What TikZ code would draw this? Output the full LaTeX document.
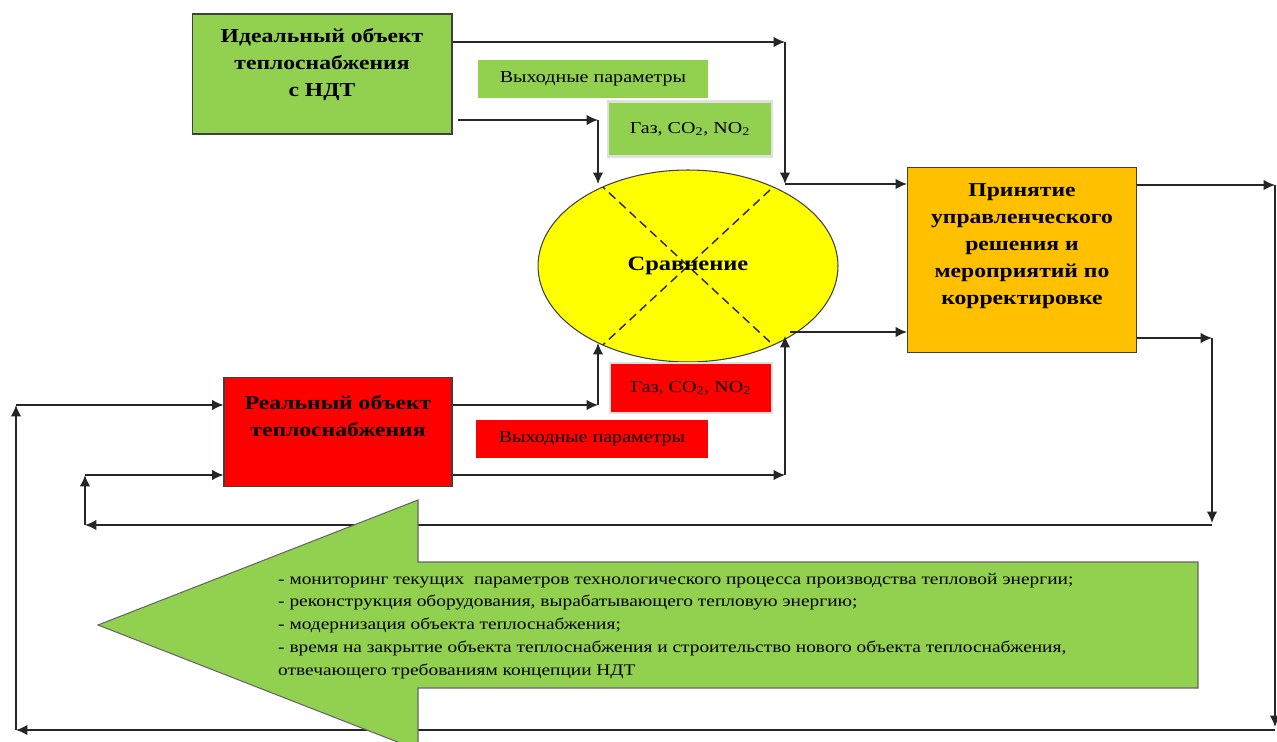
\documentclass[tikz,border=0pt]{standalone}
\usepackage{fontspec}
\setmainfont{Liberation Serif}[FakeStretch=1.2]
\usetikzlibrary{positioning, shapes.geometric, arrows.meta}
\definecolor{idealgreen}{RGB}{146,208,80}
\definecolor{realred}{RGB}{255,0,0}
\definecolor{decorange}{RGB}{255,192,0}
\definecolor{cmpyellow}{RGB}{255,255,0}

\begin{document}
\begin{tikzpicture}[>={Latex[length=6.5pt, width=6pt]}, x=0.02cm, y=-0.02cm]

        % --- Styles ---
        \tikzset{
            conn/.style={->, line width=0.85pt, black!85},
            mainbox/.style={draw=black!75, line width=0.6pt, inner sep=0pt},
            boxtitle/.style={align=center, font=\fontsize{11.2}{15.3}\selectfont\bfseries},
            tagbox/.style={inner sep=0pt, font=\fontsize{9.5}{11}\selectfont},
            gasbox/.style={draw=black!12, line width=1.6pt, inner sep=0pt, font=\fontsize{9.5}{11}\selectfont},
            cmpnode/.style={ellipse, draw=black!75, line width=0.6pt, fill=cmpyellow, inner sep=0pt,
                minimum width=6cm, minimum height=3.84cm, font=\fontsize{11.6}{14}\selectfont\bfseries,
                path picture={
                    \draw[dash pattern=on 5pt off 3pt, line width=0.8pt, black!85] (path picture bounding box.center) ++(-110,-102) -- ++(220,204);
                    \draw[dash pattern=on 5pt off 3pt, line width=0.8pt, black!85] (path picture bounding box.center) ++(-110,102) -- ++(220,-204);
                }},
            bigarrow/.style={draw=black!60, line width=0.6pt, fill=idealgreen},
            listtext/.style={align=left, font=\fontsize{9.2}{13}\selectfont}
        }

        \useasboundingbox (0,0) rectangle (1277,742);

        % --- Blocs principaux ---
        \node[mainbox, fill=idealgreen, minimum width=5.2cm, minimum height=2.4cm,
            label={[boxtitle, anchor=north, yshift=-5pt]90:{Идеальный объект\\теплоснабжения\\с НДТ}}] (ideal) at (322,74) {};
        \node[mainbox, fill=realred, minimum width=4.56cm, minimum height=2.18cm,
            label={[boxtitle, anchor=north, yshift=-7pt]90:{Реальный объект\\теплоснабжения}}] (real) at (338,432) {};
        \node[mainbox, fill=decorange, minimum width=4.58cm, minimum height=3.7cm,
            label={[boxtitle, anchor=north, yshift=-6pt]90:{Принятие\\управленческого\\решения и\\мероприятий по\\корректировке}}] (dec) at (1022,260) {};
        \node[cmpnode] (cmp) at (688,266) {Сравнение};

        % --- Parametres de sortie ---
        \node[tagbox, fill=idealgreen, minimum width=4.6cm, minimum height=0.76cm] (outideal) at (593,79) {Выходные параметры\hspace{12pt}};
        \node[gasbox, fill=idealgreen, minimum width=3.28cm, minimum height=1.1cm] (gasideal) at (690,129) {Газ, CO\textsubscript{2}, NO\textsubscript{2}};
        \node[gasbox, fill=realred, minimum width=3.24cm, minimum height=1cm] (gasreal) at (691,388) {Газ, CO\textsubscript{2}, NO\textsubscript{2}};
        \node[tagbox, fill=realred, minimum width=4.64cm, minimum height=0.76cm] (outreal) at (592,439) {Выходные параметры\hspace{12pt}};

        % --- Points de jonction ---
        \coordinate (ti) at (785,42);
        \coordinate (tg) at (598,120);
        \coordinate (ci) at (785,184);
        \coordinate (cg) at (598,184);
        \coordinate (co) at (790,332);
        \coordinate (rg) at (598,405);
        \coordinate (ri) at (785,475);
        \coordinate (rgu) at (598,343);
        \coordinate (riu) at (785,336);
        \coordinate (out) at (1275,185);
        \coordinate (outd) at (1275,727);
        \coordinate (outb) at (1275,730);
        \coordinate (ll) at (16,730);
        \coordinate (lu) at (16,405);
        \coordinate (fb) at (1212,338);
        \coordinate (fbd) at (1212,523);
        \coordinate (fbb) at (1212,525);
        \coordinate (il) at (85,525);
        \coordinate (iu) at (85,475);

        % --- Liaisons haut ---
        \draw[conn] (ideal.east |- ti) -- (ti);
        \draw[conn] (ti) -- (ci);
        \draw[conn] (458,120) -- (tg);
        \draw[conn] (tg) -- (cg);
        \draw[conn] (ci) -- (dec.west |- ci);
        \draw[conn] (co) -- (dec.west |- co);

        % --- Liaisons bas ---
        \draw[conn] (real.east |- rg) -- (rg);
        \draw[conn] (rg) -- (rgu);
        \draw[conn] (real.east |- ri) -- (ri);
        \draw[conn] (ri) -- (riu);

        % --- Retours ---
        \draw[conn] (dec.east |- out) -- (out);
        \draw[conn] (out) -- (outd);
        \draw[conn] (outb) -- (ll);
        \draw[conn] (ll) -- (lu);
        \draw[conn] (lu) -- (real.west |- lu);
        \draw[conn] (dec.east |- fb) -- (fb);
        \draw[conn] (fb) -- (fbd);
        \draw[conn] (fbb) -- (il);
        \draw[conn] (il) -- (iu);
        \draw[conn] (iu) -- (real.west |- iu);

        % --- Fleche des mesures ---
        \draw[bigarrow] (98,625) -- (418,500) -- (418,562) -- (1198,562) -- (1198,688) -- (418,688) -- (418,750) -- cycle;
        \node[listtext, anchor=west] (todo) at (272,626) {- мониторинг текущих\ \ параметров технологического процесса производства тепловой энергии;\\
            - реконструкция оборудования, вырабатывающего тепловую энергию;\\
            - модернизация объекта теплоснабжения;\\
            - время на закрытие объекта теплоснабжения и строительство нового объекта теплоснабжения,\\
            отвечающего требованиям концепции НДТ};

\end{tikzpicture}
\end{document}
